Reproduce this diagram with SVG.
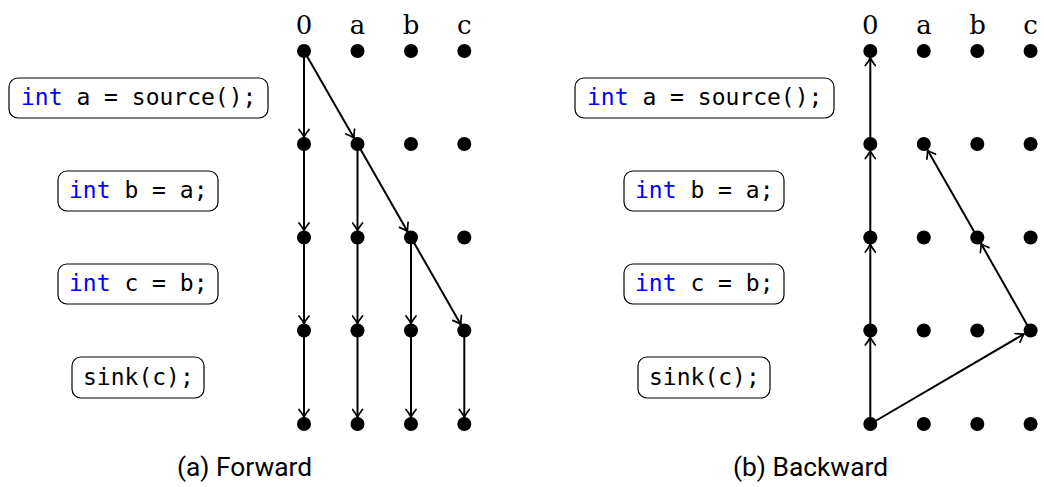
<svg xmlns="http://www.w3.org/2000/svg" width="1044" height="487" viewBox="0 0 1044 487">
<style>
.hdr{font-family:"DejaVu Serif","Liberation Serif",serif;font-size:26px;text-anchor:middle;fill:#000}
.code{font-family:"DejaVu Sans Mono","Liberation Mono",monospace;font-size:23px;fill:#000}
.kw{fill:#0000ff}
.box{fill:#fff;stroke:#000;stroke-width:1.2}
.cap{font-family:Roboto,"Liberation Sans",sans-serif;font-size:25px;fill:#000}
.e{stroke:#000;stroke-width:2;fill:none;marker-end:url(#ah)}
.dot{fill:#000}
</style>
<defs>
<marker id="ah" markerUnits="userSpaceOnUse" viewBox="-10 -6 12 12" refX="0" refY="0" markerWidth="12" markerHeight="12" orient="auto">
<path d="M-7.5,-5 Q-3,-1.5 0,0 Q-3,1.5 -7.5,5" fill="none" stroke="#000" stroke-width="1.7" stroke-linecap="round" stroke-linejoin="round"/>
</marker>
<g id="dots">
<circle class="dot" cx="0" cy="0" r="7"/><circle class="dot" cx="53.5" cy="0" r="7"/><circle class="dot" cx="107" cy="0" r="7"/><circle class="dot" cx="160.3" cy="0" r="7"/>
</g>
</defs>
<g id="forward">
<g id="f-headers">
<text class="hdr" x="304" y="34">0</text><text class="hdr" x="357.5" y="34">a</text><text class="hdr" x="411" y="34">b</text><text class="hdr" x="464.3" y="34">c</text>
</g>
<g id="f-code1"><rect class="box" x="9" y="78" width="259" height="40" rx="9"/><text class="code" x="21" y="105"><tspan class="kw">int</tspan> a = source();</text></g>
<g id="f-code2"><rect class="box" x="58" y="171" width="160" height="40" rx="9"/><text class="code" x="69" y="198"><tspan class="kw">int</tspan> b = a;</text></g>
<g id="f-code3"><rect class="box" x="58" y="264" width="160" height="40" rx="9"/><text class="code" x="69" y="291"><tspan class="kw">int</tspan> c = b;</text></g>
<g id="f-code4"><rect class="box" x="72" y="357" width="132" height="41" rx="9"/><text class="code" x="83" y="385">sink(c);</text></g>
<g id="f-edges">
<line class="e" x1="304" y1="51" x2="304" y2="137"/>
<line class="e" x1="304" y1="144" x2="304" y2="230.5"/>
<line class="e" x1="304" y1="237.5" x2="304" y2="323.5"/>
<line class="e" x1="304" y1="330.5" x2="304" y2="417"/>
<line class="e" x1="357.5" y1="144" x2="357.5" y2="230.5"/>
<line class="e" x1="357.5" y1="237.5" x2="357.5" y2="323.5"/>
<line class="e" x1="357.5" y1="330.5" x2="357.5" y2="417"/>
<line class="e" x1="411" y1="237.5" x2="411" y2="323.5"/>
<line class="e" x1="411" y1="330.5" x2="411" y2="417"/>
<line class="e" x1="464.3" y1="330.5" x2="464.3" y2="417"/>
<line class="e" x1="304" y1="51" x2="354" y2="138"/>
<line class="e" x1="357.5" y1="144" x2="407.5" y2="231.4"/>
<line class="e" x1="411" y1="237.5" x2="460.8" y2="324.4"/>
</g>
<g id="f-nodes">
<use href="#dots" x="304" y="51"/><use href="#dots" x="304" y="144"/><use href="#dots" x="304" y="237.5"/><use href="#dots" x="304" y="330.5"/><use href="#dots" x="304" y="424"/>
</g>
<text class="cap" x="177" y="476" textLength="135" lengthAdjust="spacingAndGlyphs">(a) Forward</text>
</g>
<g id="backward">
<g id="b-headers">
<text class="hdr" x="870.3" y="34">0</text><text class="hdr" x="924" y="34">a</text><text class="hdr" x="977.5" y="34">b</text><text class="hdr" x="1030.5" y="34">c</text>
</g>
<g id="b-code1"><rect class="box" x="575" y="78" width="259" height="40" rx="9"/><text class="code" x="587" y="105"><tspan class="kw">int</tspan> a = source();</text></g>
<g id="b-code2"><rect class="box" x="624" y="171" width="160" height="40" rx="9"/><text class="code" x="635" y="198"><tspan class="kw">int</tspan> b = a;</text></g>
<g id="b-code3"><rect class="box" x="624" y="264" width="160" height="40" rx="9"/><text class="code" x="635" y="291"><tspan class="kw">int</tspan> c = b;</text></g>
<g id="b-code4"><rect class="box" x="638" y="357" width="132" height="41" rx="9"/><text class="code" x="649" y="385">sink(c);</text></g>
<g id="b-edges">
<line class="e" x1="870.3" y1="424" x2="870.3" y2="337.5"/>
<line class="e" x1="870.3" y1="330.5" x2="870.3" y2="244.5"/>
<line class="e" x1="870.3" y1="237.5" x2="870.3" y2="151"/>
<line class="e" x1="870.3" y1="144" x2="870.3" y2="58"/>
<line class="e" x1="870.3" y1="424" x2="1024" y2="334"/>
<line class="e" x1="1030.3" y1="330.5" x2="981" y2="243.6"/>
<line class="e" x1="977.5" y1="237.5" x2="927.5" y2="150.1"/>
</g>
<g id="b-nodes">
<use href="#dots" x="870.3" y="51"/><use href="#dots" x="870.3" y="144"/><use href="#dots" x="870.3" y="237.5"/><use href="#dots" x="870.3" y="330.5"/><use href="#dots" x="870.3" y="424"/>
</g>
<text class="cap" x="733" y="476" textLength="155" lengthAdjust="spacingAndGlyphs">(b) Backward</text>
</g>
</svg>
